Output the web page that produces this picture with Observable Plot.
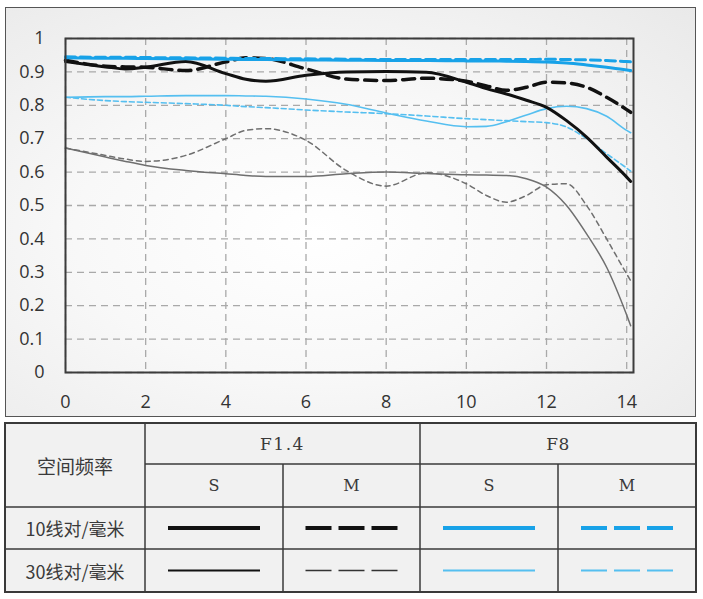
<!DOCTYPE html>
<html>
<head>
<meta charset="utf-8">
<script src="https://cdn.jsdelivr.net/npm/d3@7"></script>
<script src="https://cdn.jsdelivr.net/npm/@observablehq/plot@0.6"></script>
<style>
  html, body { margin: 0; padding: 0; background: #ffffff; }
  #page { position: relative; width: 703px; height: 599px; overflow: hidden; }
  #panel { position: absolute; left: 5px; top: 7px; width: 689px; height: 408px;
    border: 1.5px solid #555;
    background: radial-gradient(ellipse at 45% 55%, #ffffff 0%, #f8f8f8 45%, #e9e9e9 100%); }
  #chart { position: absolute; left: 0; top: 0; }
  #legend { position: absolute; left: 0; top: 0; }
</style>
</head>
<body>
<div id="page">
  <div id="panel"></div>
  <div id="chart"></div>
  <div id="legend"></div>
</div>
<script>
// ---- data ----
const xs = [0, 1, 1.5, 2, 3, 4, 4.5, 5, 6, 7, 8, 9, 10, 10.5, 11, 11.5, 12, 12.5, 13, 13.5, 14, 14.1];
const f14S10 = [0.931, 0.915, 0.909, 0.914, 0.931, 0.895, 0.878, 0.872, 0.890, 0.900, 0.901, 0.899, 0.869, 0.850, 0.834, 0.815, 0.794, 0.754, 0.705, 0.645, 0.585, 0.572];
const f14M10 = [0.935, 0.917, 0.915, 0.914, 0.904, 0.930, 0.942, 0.940, 0.909, 0.879, 0.874, 0.881, 0.872, 0.858, 0.845, 0.854, 0.869, 0.867, 0.854, 0.824, 0.787, 0.779];
const f8S10  = [0.942, 0.941, 0.941, 0.940, 0.939, 0.938, 0.937, 0.937, 0.936, 0.935, 0.934, 0.934, 0.933, 0.933, 0.932, 0.931, 0.930, 0.927, 0.921, 0.914, 0.906, 0.904];
const f8M10  = [0.945, 0.944, 0.944, 0.943, 0.942, 0.941, 0.940, 0.940, 0.939, 0.938, 0.937, 0.937, 0.937, 0.937, 0.937, 0.937, 0.938, 0.937, 0.936, 0.934, 0.931, 0.930];
const f8S30  = [0.824, 0.826, 0.826, 0.827, 0.829, 0.829, 0.828, 0.827, 0.819, 0.803, 0.777, 0.753, 0.736, 0.737, 0.751, 0.771, 0.790, 0.797, 0.790, 0.767, 0.725, 0.718];
const f8M30  = [0.824, 0.814, 0.811, 0.809, 0.805, 0.800, 0.796, 0.793, 0.786, 0.780, 0.775, 0.768, 0.760, 0.757, 0.754, 0.751, 0.748, 0.735, 0.700, 0.655, 0.612, 0.603];
const f14S30 = [0.672, 0.645, 0.632, 0.620, 0.605, 0.595, 0.590, 0.587, 0.587, 0.595, 0.600, 0.596, 0.592, 0.591, 0.590, 0.580, 0.555, 0.500, 0.415, 0.315, 0.172, 0.140];
const f14M30 = [0.672, 0.650, 0.639, 0.632, 0.650, 0.700, 0.725, 0.730, 0.695, 0.605, 0.558, 0.598, 0.565, 0.530, 0.510, 0.530, 0.562, 0.565, 0.500, 0.400, 0.295, 0.275];

const xTicks = [0, 2, 4, 6, 8, 10, 12, 14];
const yTicks = [0, 0.1, 0.2, 0.3, 0.4, 0.5, 0.6, 0.7, 0.8, 0.9, 1];

const rowLabels = ["10线对/毫米", "30线对/毫米"];
const apertures = ["F1.4", "F8"];
const directions = ["S", "M"];
const headerLabel = "空间频率";

// ---- styles ----
const BLACK = "#111111", GREY = "#6f6f6f", BLUE = "#18a2e8", LBLUE = "#55bff0";
const series = [
  {values: f14S30, stroke: GREY,  width: 1.5, dash: null},
  {values: f14M30, stroke: GREY,  width: 1.5, dash: "5,4"},
  {values: f8S30,  stroke: LBLUE, width: 1.6, dash: null},
  {values: f8M30,  stroke: LBLUE, width: 1.6, dash: "5,3"},
  {values: f14S10, stroke: BLACK, width: 3,   dash: null},
  {values: f14M10, stroke: BLACK, width: 3.5, dash: "12,7"},
  {values: f8S10,  stroke: BLUE,  width: 3,   dash: null},
  {values: f8M10,  stroke: BLUE,  width: 3,   dash: "10,5"}
];

const lineMarks = series.map(s =>
  Plot.line(xs.map((x, i) => ({x, y: s.values[i]})), {
    x: "x", y: "y", stroke: s.stroke, strokeWidth: s.width,
    strokeDasharray: s.dash || undefined, curve: "monotone-x"
  })
);

const chart = Plot.plot({
  width: 703, height: 420,
  marginLeft: 65, marginTop: 38, marginRight: 70, marginBottom: 48,
  x: {domain: [0, 14.17]},
  y: {domain: [0, 1]},
  style: {background: "transparent", fontFamily: "'Open Sans', Lato, sans-serif", fontSize: "18px", color: "#333"},
  marks: [
    Plot.gridX(xTicks, {stroke: "#a9a9a9", strokeOpacity: 1, strokeWidth: 1.3, strokeDasharray: "7,5"}),
    Plot.gridY(yTicks, {stroke: "#a9a9a9", strokeOpacity: 1, strokeWidth: 1.3, strokeDasharray: "7,5"}),
    ...lineMarks,
    Plot.frame({stroke: "#3c3c3c", strokeWidth: 2}),
    Plot.axisX(xTicks, {tickSize: 0, tickPadding: 23, label: null, fontSize: 18, fill: "#333"}),
    Plot.axisY(yTicks, {tickSize: 0, tickPadding: 21, label: null, fontSize: 18, fill: "#333",
      tickFormat: d => d3.format(".1~f")(d)})
  ]
});
document.getElementById("chart").appendChild(chart);

// ---- legend table ----
const svg = d3.select("#legend").append("svg").attr("width", 703).attr("height", 599);
const colX = [5, 145, 283, 420, 558, 696];
const rowY = [423, 464, 507, 549, 592];
const lc = "#3a3a3a";
svg.append("rect").attr("x", colX[0]).attr("y", rowY[0]).attr("width", colX[5] - colX[0]).attr("height", rowY[4] - rowY[0])
  .attr("fill", "#f1f1f1").attr("stroke", lc).attr("stroke-width", 2);
const seg = (x1, y1, x2, y2) => svg.append("line").attr("x1", x1).attr("y1", y1).attr("x2", x2).attr("y2", y2)
  .attr("stroke", lc).attr("stroke-width", 1.5);
seg(colX[1], rowY[0], colX[1], rowY[4]);
seg(colX[3], rowY[0], colX[3], rowY[4]);
seg(colX[2], rowY[1], colX[2], rowY[4]);
seg(colX[4], rowY[1], colX[4], rowY[4]);
seg(colX[1], rowY[1], colX[5], rowY[1]);
seg(colX[0], rowY[2], colX[5], rowY[2]);
seg(colX[0], rowY[3], colX[5], rowY[3]);

const txt = (x, y, t, font, size, ls) => svg.append("text").attr("x", x).attr("y", y).text(t)
  .attr("text-anchor", "middle").attr("dominant-baseline", "central")
  .attr("font-family", font).attr("font-size", size).attr("fill", "#3a3a3a")
  .attr("letter-spacing", ls || 0);
const cjk = "'Noto Sans CJK SC', sans-serif";
const serif = "'DejaVu Serif', 'Liberation Serif', serif";
txt((colX[0] + colX[1]) / 2, (rowY[0] + rowY[2]) / 2, headerLabel, cjk, 19);
txt((colX[0] + colX[1]) / 2, (rowY[2] + rowY[3]) / 2, rowLabels[0], cjk, 18);
txt((colX[0] + colX[1]) / 2, (rowY[3] + rowY[4]) / 2, rowLabels[1], cjk, 18);
txt((colX[1] + colX[3]) / 2, (rowY[0] + rowY[1]) / 2, apertures[0], serif, 17, 1.5);
txt((colX[3] + colX[5]) / 2, (rowY[0] + rowY[1]) / 2, apertures[1], serif, 17, 0.5);
[1, 2, 3, 4].forEach((c, i) => txt((colX[c] + colX[c + 1]) / 2, (rowY[1] + rowY[2]) / 2, directions[i % 2], serif, 16));

// legend samples: [col, row, color, width, dashed]
const samples = [
  [1, 2, BLACK, 4, false], [2, 2, BLACK, 4, true], [3, 2, BLUE, 4, false], [4, 2, BLUE, 4, true],
  [1, 3, BLACK, 2, false], [2, 3, "#333", 1.6, true], [3, 3, LBLUE, 2, false], [4, 3, LBLUE, 2, true]
];
samples.forEach(([c, r, color, w, dashed]) => {
  const cx = (colX[c] + colX[c + 1]) / 2, cy = (rowY[r] + rowY[r + 1]) / 2;
  svg.append("line").attr("x1", cx - 46).attr("x2", cx + 46).attr("y1", cy).attr("y2", cy)
    .attr("stroke", color).attr("stroke-width", w)
    .attr("stroke-dasharray", dashed ? "26,7" : null);
});
</script>
</body>
</html>
